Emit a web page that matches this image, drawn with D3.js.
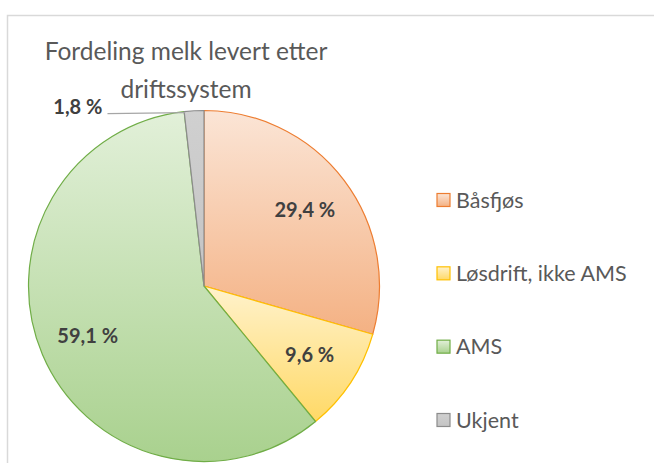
<!DOCTYPE html>
<html>
<head>
<meta charset="utf-8">
<script src="https://cdn.jsdelivr.net/npm/d3@7"></script>
<style>
  html, body { margin: 0; padding: 0; background: #fff; }
  svg { display: block; }
</style>
</head>
<body>
<svg id="chart" width="654" height="463"></svg>
<script>
const titleLines = ["Fordeling melk levert etter", "driftssystem"];
const categories = ["Båsfjøs", "Løsdrift, ikke AMS", "AMS", "Ukjent"];
const values = [29.4, 9.6, 59.1, 1.8];
const valueLabels = ["29,4 %", "9,6 %", "59,1 %", "1,8 %"];
const strokeColors = ["#ed7d31", "#ffc000", "#70ad47", "#8c8c8c"];
const topColors = ["#fbe5d6", "#fff2cc", "#e2f0d9", "#d0d0d0"];
const bottomColors = ["#f4b183", "#ffd966", "#a9d18e", "#c4c4c4"];

const W = 654, H = 463;
const cx = 204, cy = 286, R = 175.5;
const FONT = "Lato, 'Open Sans', sans-serif";

const svg = d3.select("#chart");

// chart area border
svg.append("path")
  .attr("d", `M${W},15.5 H7.5 V${H}`)
  .attr("fill", "none")
  .attr("stroke", "#d9d9d9")
  .attr("stroke-width", 1.5);

// gradients
const defs = svg.append("defs");
categories.forEach((c, i) => {
  const g = defs.append("linearGradient")
    .attr("id", "grad" + i)
    .attr("x1", 0).attr("y1", 0).attr("x2", 0).attr("y2", 1);
  g.append("stop").attr("offset", "0%").attr("stop-color", topColors[i]);
  g.append("stop").attr("offset", "100%").attr("stop-color", bottomColors[i]);
});

// title
const title = svg.append("text")
  .attr("x", 186)
  .attr("text-anchor", "middle")
  .attr("fill", "#595959")
  .style("font-family", FONT)
  .style("font-size", "24.5px");
titleLines.forEach((t, i) => {
  title.append("tspan").attr("x", 186).attr("y", 60 + i * 38).text(t);
});

// pie
const pie = d3.pie().sort(null).value(d => d);
const arcs = pie(values);
const arc = d3.arc().innerRadius(0).outerRadius(R);
const g = svg.append("g").attr("transform", `translate(${cx},${cy})`);

g.selectAll("path.slice")
  .data(arcs)
  .enter().append("path")
  .attr("class", "slice")
  .attr("d", arc)
  .attr("fill", (d, i) => `url(#grad${i})`)
  .attr("stroke", (d, i) => strokeColors[i])
  .attr("stroke-width", 1.2)
  .attr("stroke-linejoin", "round");

// inside labels
const labelArc = d3.arc().innerRadius(R * 0.72).outerRadius(R * 0.72);
g.selectAll("text.lbl")
  .data(arcs.slice(0, 3))
  .enter().append("text")
  .attr("class", "lbl")
  .attr("transform", d => `translate(${labelArc.centroid(d)})`)
  .attr("text-anchor", "middle")
  .attr("dy", "0.36em")
  .attr("fill", "#404040")
  .style("font-family", FONT)
  .style("font-weight", "bold")
  .style("font-size", "20px")
  .text((d, i) => valueLabels[i]);

// outside label for small slice with leader line
const small = arcs[3];
const px = Math.sin(small.startAngle) * R + 1, py = -Math.cos(small.startAngle) * R + 1;
const lx = -R * 0.55;
g.append("path")
  .attr("d", `M${px},${py} L${lx},${py + 1}`)
  .attr("fill", "none")
  .attr("stroke", "#a6a6a6")
  .attr("stroke-width", 1.3);
g.append("text")
  .attr("x", lx - 5)
  .attr("y", py + 1)
  .attr("text-anchor", "end")
  .attr("fill", "#404040")
  .style("font-family", FONT)
  .style("font-weight", "bold")
  .style("font-size", "20px")
  .text(valueLabels[3]);

// legend
const leg = svg.append("g");
const legY = d3.scalePoint().domain(categories).range([200, 420]);
const items = leg.selectAll("g.item")
  .data(categories)
  .enter().append("g")
  .attr("class", "item")
  .attr("transform", d => `translate(437,${legY(d)})`);
items.append("rect")
  .attr("x", 0).attr("y", -6.5)
  .attr("width", 13).attr("height", 13)
  .attr("fill", (d, i) => `url(#grad${i})`)
  .attr("stroke", (d, i) => strokeColors[i])
  .attr("stroke-width", 1.2);
items.append("text")
  .attr("x", 19)
  .attr("dy", "0.36em")
  .attr("fill", "#595959")
  .style("font-family", FONT)
  .style("font-size", "21.5px")
  .text(d => d);
</script>
</body>
</html>
